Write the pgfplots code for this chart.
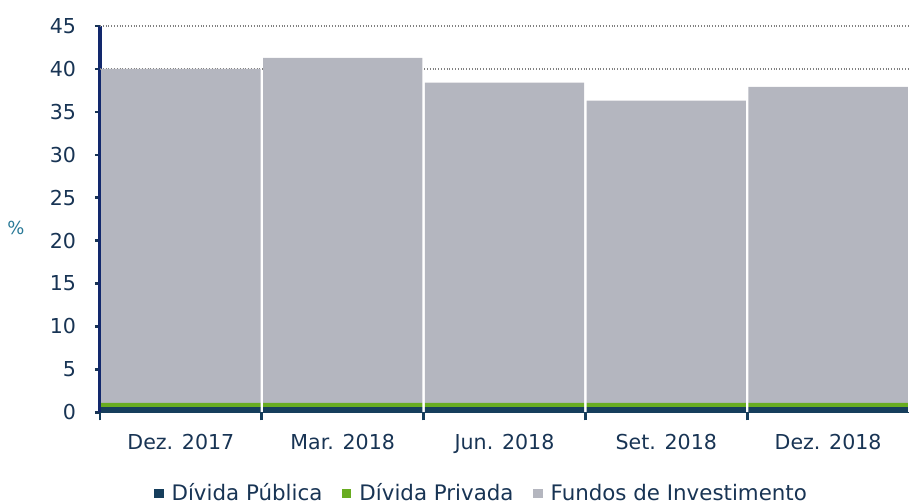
\documentclass[border=0pt]{standalone}
\usepackage{pgfplots}
\pgfplotsset{compat=1.18}
\usepackage{fontspec}
\setmainfont{DejaVu Sans}
\definecolor{pub}{RGB}{22,62,92}
\definecolor{priv}{RGB}{104,172,32}
\definecolor{fund}{RGB}{180,182,191}
\definecolor{labcol}{RGB}{24,52,84}
\definecolor{axcol}{RGB}{18,40,108}
\definecolor{pctcol}{RGB}{40,120,150}
\begin{document}
\begin{tikzpicture}
\begin{axis}[
  scale only axis,
  width=14.24cm, height=6.8cm,
  ybar stacked, bar width=0.985,
  xmin=-0.5, xmax=4.5, ymin=0, ymax=45,
  xtick={0,...,4},
  xticklabels={Dez. 2017, Mar. 2018, Jun. 2018, Set. 2018, Dez. 2018},
  minor xtick={-0.5,0.5,1.5,2.5,3.5},
  ytick={0,5,...,45},
  axis x line*=bottom, axis y line*=left,
  x axis line style={draw=pub, line width=0.8pt},
  y axis line style={draw=axcol, line width=1.8pt},
  extra y ticks={40,45}, extra y tick labels={},
  extra y tick style={grid=major, major tick length=0pt},
  grid style={densely dotted, gray, line width=0.6pt},
  tick align=outside,
  major tick length=2.5pt, minor tick length=4pt,
  major x tick style={draw=none},
  minor x tick style={draw=pub, line width=1.4pt},
  major y tick style={draw=labcol, line width=1.3pt},
  ticklabel style={font=\fontsize{10.3}{12}\selectfont, text=labcol},
  xticklabel style={yshift=-5pt},
  yticklabel style={xshift=-6pt},
  /pgf/number format/assume math mode=true,
  ylabel={\%},
  ylabel style={rotate=-90, at={(axis description cs:-0.104,0.477)}, anchor=center, text=pctcol, font=\fontsize{9}{11}\selectfont},
  legend style={at={(rel axis cs:0.473,-0.21)}, anchor=center, draw=none, fill=none,
    legend columns=3, font=\fontsize{10.7}{12}\selectfont, text=labcol,
    /tikz/every even column/.append style={column sep=8pt},
    /tikz/every odd column/.append style={column sep=2pt}},
  legend image code/.code={\fill[#1] (0pt,-2.3pt) rectangle (4.6pt,2.3pt);},
]
\addplot[fill=pub, draw=none] coordinates {(0,0.6) (1,0.6) (2,0.6) (3,0.6) (4,0.6)};
\addplot[fill=priv, draw=none] coordinates {(0,0.5) (1,0.5) (2,0.5) (3,0.5) (4,0.5)};
\addplot[fill=fund, draw=none] coordinates {(0,38.9) (1,40.2) (2,37.3) (3,35.2) (4,36.8)};
\legend{Dívida Pública, Dívida Privada, Fundos de Investimento}
\coordinate (bl) at (rel axis cs:-0.1236,-0.2358);
\coordinate (tr) at (rel axis cs:1,1.0674);
\end{axis}
\pgfresetboundingbox
\path[use as bounding box] (bl) rectangle (tr);
\end{tikzpicture}
\end{document}
